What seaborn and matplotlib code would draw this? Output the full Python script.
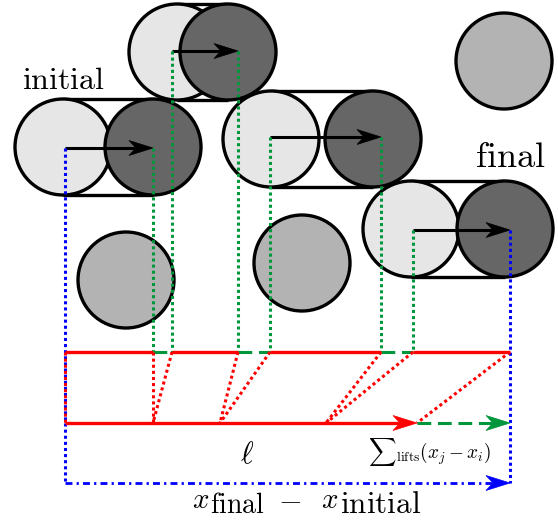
import numpy as np
import matplotlib
matplotlib.use('Agg')
import matplotlib.pyplot as plt
from matplotlib.patches import Circle, Polygon
import seaborn as sns

# --- data (pixel coordinates of the sketch, y grows downward) ---
# particle pairs: light = before the lift, dark = after the lift
light_x = [63, 177, 271, 411]
light_y = [147, 52, 139, 229]
dark_x = [153, 228, 373, 505]
arrow_start = [65, 172, 270, 413]
arrow_end = [153, 238, 381, 510]
arrow_y = [148, 51, 137, 230]
# lone grey particles
single_x = [126, 302, 504]
single_y = [280, 263, 61]
radius = 48

# projections onto the two lines
top_y = 352
bottom_y = 423
total_y = 483
top_nodes = [65, 153, 172, 238, 270, 381, 413, 510]
bottom_nodes = [65, 153, 153, 220, 220, 326, 326, 417]

sns.set_theme(style='white')
plt.rcParams['mathtext.fontset'] = 'cm'
plt.rcParams['text.color'] = 'black'

fig = plt.figure(figsize=(5.58, 5.25), dpi=100)
ax = fig.add_axes([0, 0, 1, 1])
ax.set_xlim(0, 558)
ax.set_ylim(525, 0)
ax.set_aspect('equal')
ax.axis('off')

LIGHT = '#e6e6e6'
DARK = '#666666'
MID = '#b3b3b3'
RED = '#ff0000'
GREEN = '#00963c'
BLUE = '#0000ff'
dotted = (0, (1, 1))


def head(x1, y, color, z, L=24, W=7.5, inset=7):
    pts = [(x1, y), (x1 - L, y - W), (x1 - L + inset, y), (x1 - L, y + W)]
    ax.add_patch(Polygon(pts, closed=True, facecolor=color, edgecolor=color,
                         lw=0.5, zorder=z))


def arrow(x0, x1, y, color, ls='-', lw=2.2, z=3):
    ax.plot([x0, x1 - 16], [y, y], color=color, ls=ls, lw=lw, zorder=z,
            solid_capstyle='butt')
    head(x1, y, color, z)


# particle pairs with their capsule outline
for i in range(len(light_x)):
    cy = light_y[i]
    for dy in (-radius, radius):
        ax.plot([light_x[i], dark_x[i]], [cy + dy, cy + dy], color='black',
                lw=2.4, zorder=1.5 + i, solid_capstyle='butt')
    ax.add_patch(Circle((light_x[i], cy), radius, facecolor=LIGHT,
                        edgecolor='black', lw=2.4, zorder=1.6 + i))
    ax.add_patch(Circle((dark_x[i], cy), radius, facecolor=DARK,
                        edgecolor='black', lw=2.4, zorder=1.7 + i))
    arrow(arrow_start[i], arrow_end[i], arrow_y[i], 'black', z=1.8 + i)

for x, y in zip(single_x, single_y):
    ax.add_patch(Circle((x, y), radius, facecolor=MID, edgecolor='black',
                        lw=2.4, zorder=2))

# green drops from lift ends to the upper line
for i in range(len(light_x) - 1):
    for x, y in ((arrow_end[i], arrow_y[i]), (arrow_start[i + 1], arrow_y[i + 1])):
        ax.plot([x, x], [y, top_y], color=GREEN, ls=dotted, lw=2.2, zorder=8)

# blue drops and total displacement
ax.plot([arrow_start[0]] * 2, [arrow_y[0], total_y], color=BLUE, ls=dotted,
        lw=2.2, zorder=8)
ax.plot([arrow_end[-1]] * 2, [arrow_y[-1], total_y], color=BLUE, ls=dotted,
        lw=2.2, zorder=8)
ax.plot([top_nodes[0], top_nodes[-1] - 16], [total_y, total_y], color=BLUE,
        ls=(0, (2.5, 1.5, 0.8, 1.5)), lw=2.0, zorder=8)
head(top_nodes[-1], total_y, BLUE, 8)

# upper line: red walks, green dashed lifts
for k in range(len(top_nodes) - 1):
    x0, x1 = top_nodes[k], top_nodes[k + 1]
    if k % 2 == 0:
        ax.plot([x0, x1], [top_y, top_y], color=RED, lw=2.4, zorder=9,
                solid_capstyle='butt')
    else:
        ax.plot([x0, x1], [top_y, top_y], color=GREEN, ls=(0, (4.5, 2.2)),
                lw=2.2, zorder=9)

# red dotted projections onto lower line
for xt, xb in zip(top_nodes, bottom_nodes):
    ax.plot([xt, xb], [top_y, bottom_y], color=RED, ls=dotted, lw=2.2, zorder=10)

# lower line: walked distance plus lifts
arrow(top_nodes[0], bottom_nodes[-1], bottom_y, RED, lw=2.4, z=11)
ax.plot([bottom_nodes[-1], top_nodes[-1] - 16], [bottom_y, bottom_y],
        color=GREEN, ls=(0, (4.5, 2.2)), lw=2.2, zorder=11)
head(top_nodes[-1], bottom_y, GREEN, 11)

# labels
ax.text(22, 89, r'$\mathrm{initial}$', fontsize=23, ha='left', va='baseline')
ax.text(475, 167, r'$\mathrm{final}$', fontsize=26, ha='left', va='baseline')
ax.text(247, 455, r'$\ell$', fontsize=22, ha='center', va='center')
ax.text(368, 452, r'${\sum}_{\mathrm{lifts}}(x_j - x_i)$', fontsize=13.8,
        ha='left', va='center')
# x_final - x_initial, set piece by piece so the subscripts stay large
ax.text(192, 508, r'$x$', fontsize=21, ha='left', va='baseline')
ax.text(210, 513, r'$\mathrm{final}$', fontsize=20, ha='left', va='baseline')
ax.text(290, 508, r'$-$', fontsize=22, ha='center', va='baseline')
ax.text(321, 508, r'$x$', fontsize=21, ha='left', va='baseline')
ax.text(340, 513, r'$\mathrm{initial}$', fontsize=22.5, ha='left', va='baseline')

fig.savefig('out.png', dpi=100)
